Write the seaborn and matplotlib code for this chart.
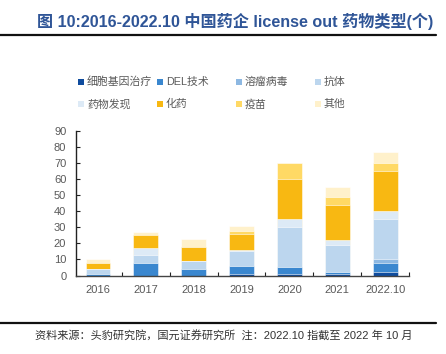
import numpy as np
import pandas as pd
import matplotlib
matplotlib.use('Agg')
import matplotlib.pyplot as plt
from matplotlib.patches import Rectangle
from matplotlib.lines import Line2D
import seaborn as sns

sns.set_theme(style='ticks')
plt.rcParams['font.family'] = ['Liberation Sans', 'Noto Sans CJK SC', 'DejaVu Sans']

# data
years = ['2016', '2017', '2018', '2019', '2020', '2021', '2022.10']
series_names = ['细胞基因治疗', 'DEL技术', '溶瘤病毒', '抗体', '药物发现', '化药', '疫苗', '其他']
cell_gene = [0, 0, 0, 1, 1, 1, 2]
del_tech = [1, 8, 4, 5, 4, 1, 6]
oncolytic = [0, 0, 0, 0, 0, 0, 2]
antibody = [3, 5, 5, 9, 25, 17, 25]
discovery = [0, 4, 0, 1, 5, 3, 5]
chemical = [4, 8, 9, 10, 25, 22, 25]
vaccine = [0, 0, 0, 2, 10, 5, 5]
other = [2, 2, 5, 3, 0, 6, 7]

colors = ['#0F4C9E', '#3A87CF', '#8DB8E2', '#BCD6EE', '#DDEAF6', '#F8B812', '#FFD965', '#FFF1CB']

df = pd.DataFrame({'year': years})
for name, vals in zip(series_names, [cell_gene, del_tech, oncolytic, antibody,
                                     discovery, chemical, vaccine, other]):
    df[name] = vals
cum = df[series_names].cumsum(axis=1)

fig = plt.figure(figsize=(4.46, 3.54), dpi=100)
ax = fig.add_axes([76 / 446, 1 - 275.5 / 354, 333 / 446, 144.5 / 354])

# stacked bars: draw cumulative totals from the top layer down
for i in range(len(series_names) - 1, -1, -1):
    sns.barplot(x=df['year'], y=cum[series_names[i]], color=colors[i], width=0.52,
                saturation=1, edgecolor='white', linewidth=0.4, ax=ax)

ax.set_xlim(-0.46, 6.5)
ax.set_ylim(0, 90)
ax.set_yticks(range(0, 91, 10))
ax.set_xlabel('')
ax.set_ylabel('')
for s in ['top', 'right']:
    ax.spines[s].set_visible(False)
ax.spines['left'].set_color('#222222')
ax.spines['bottom'].set_color('#444444')
ax.spines['left'].set_linewidth(1.0)
ax.spines['bottom'].set_linewidth(1.0)
ax.tick_params(axis='y', direction='in', length=3, width=0.8, pad=7,
               labelsize=8, labelcolor='#595959', color='#222222')
ax.tick_params(axis='x', which='major', length=0, pad=7, labelsize=8, labelcolor='#595959')
ax.set_xticks(np.arange(0.5, 7, 1), minor=True)
ax.tick_params(axis='x', which='minor', direction='in', length=3, width=0.8, color='#222222')

# legend, two rows of four
col_x = [81, 160, 239, 318]
row_y = [82, 104]
for i, (name, c) in enumerate(zip(series_names, colors)):
    x = col_x[i % 4]
    y = row_y[i // 4]
    fig.patches.append(Rectangle(((x - 3) / 446, 1 - (y + 3) / 354), 6 / 446, 6 / 354,
                                 transform=fig.transFigure, facecolor=c, edgecolor='none'))
    fig.text((x + 6) / 446, 1 - y / 354, name, fontsize=7.8, color='#595959',
             va='center', ha='left')

# title and rules
fig.text(37 / 446, 1 - 21 / 354, '图 10:2016-2022.10 中国药企 license out 药物类型(个)',
         fontsize=11.6, fontweight='bold', color='#2F5597', va='center', ha='left')
fig.add_artist(Line2D([0, 436 / 446], [1 - 34.5 / 354] * 2, color='#111111', linewidth=1.6,
                      transform=fig.transFigure))
fig.add_artist(Line2D([0, 436 / 446], [1 - 322.5 / 354] * 2, color='#111111', linewidth=1.6,
                      transform=fig.transFigure))
fig.text(35 / 446, 1 - 336 / 354, '资料来源：头豹研究院，国元证券研究所  注：2022.10 指截至 2022 年 10 月',
         fontsize=8, color='#333333', va='center', ha='left')

fig.savefig('out.png', dpi=100)
